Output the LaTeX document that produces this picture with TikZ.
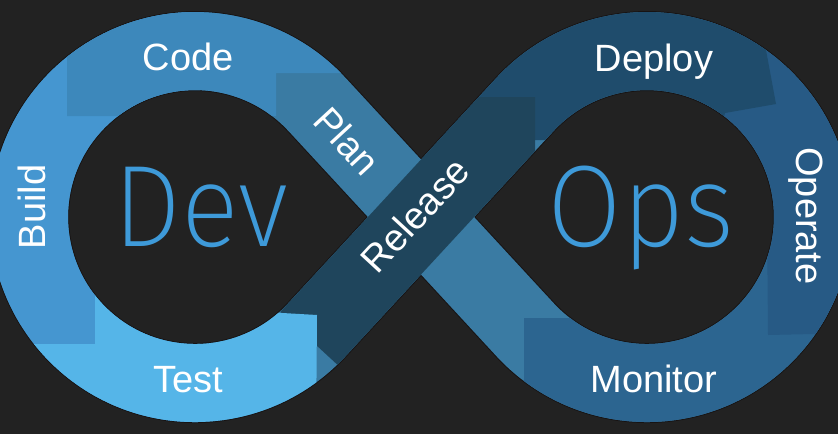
\documentclass[tikz,border=0pt]{standalone}
\usepackage{fontspec}
\setmainfont{Liberation Sans}
\newfontfamily\thinfont{Fira Sans ExtraLight}
\definecolor{bgcol}{HTML}{222222}
\definecolor{edgecol}{HTML}{171313}
\definecolor{buildcol}{HTML}{4596D0}
\definecolor{codecol}{HTML}{3D88BB}
\definecolor{plancol}{HTML}{3A7BA3}
\definecolor{testcol}{HTML}{55B5E8}
\definecolor{releasecol}{HTML}{1F455C}
\definecolor{deploycol}{HTML}{1F4C6C}
\definecolor{operatecol}{HTML}{275A85}
\definecolor{monitorcol}{HTML}{2C6590}
\definecolor{bigcol}{HTML}{3E9AD9}

\begin{document}
\begin{tikzpicture}[
    x=1pt, y=-1pt,
    band/.style={line width=78pt, line join=round},
    eightpath/.style={insert path={(317,104.4) -- (525,329.6)
        arc[start angle=137.3, end angle=-137.3, radius=166] -- (317,329.6)
        arc[start angle=42.7, end angle=317.3, radius=166] -- cycle}},
    lbl/.style={text=white, font=\fontsize{38}{38}\selectfont, inner sep=0pt},
    big/.style={text=bigcol, font=\thinfont\fontsize{116}{116}\selectfont, inner sep=0pt, xscale=0.93}
]

% --- background ---
\fill[bgcol] (0,0) rectangle (838,434);
\useasboundingbox (0,0) rectangle (838,434);

% --- the loop, one colour block after the other ---
\draw[edgecol, line width=80pt, line join=round, eightpath];
\draw[band, plancol, eightpath];
\begin{scope}
  \clip (-20,-20) rectangle (200,440);
  \draw[band, buildcol, eightpath];
\end{scope}
\begin{scope}
  \clip (67,-20) -- (360,-20) -- (360,73) -- (276,73) -- (276,116) -- (67,116) -- cycle;
  \draw[band, codecol, eightpath];
\end{scope}
\begin{scope}
  \clip (524,440) -- (524,318) -- (640,318) -- (700,250) -- (860,250) -- (860,440) -- cycle;
  \draw[band, monitorcol, eightpath];
\end{scope}
\begin{scope}
  \clip (700,-20) -- (860,-20) -- (860,333) -- (768,335) -- (767,217) -- (700,217) -- cycle;
  \draw[band, operatecol, eightpath];
\end{scope}
\begin{scope}
  \clip (440,-20) -- (753,-20) -- (776,104) -- (725,113) -- (700,217) -- (560,217) -- (560,140) -- (440,140) -- cycle;
  \draw[band, deploycol, eightpath];
\end{scope}
\begin{scope}
  \clip (200,97) rectangle (535,440);
  \coordinate (relA) at (308.9,338.4);
  \coordinate (relB) at (538.6,89.7);
  \draw[band, releasecol] (relA) -- (relB);
\end{scope}
\begin{scope}
  \clip (-20,440) -- (-20,344) -- (95,344) -- (95,280) -- (265,280) -- (265,312) -- (317,315) -- (316,440) -- cycle;
  \draw[band, testcol, eightpath];
\end{scope}

% --- labels ---
\node[lbl, anchor=base] (code) at (188,70) {Code};
\node[lbl, anchor=base, rotate=90] (build) at (45,207) {Build};
\node[lbl, anchor=base] (test) at (188,392) {Test};
\node[lbl, rotate=-47.3] (plan) at (347,141) {Plan};
\node[lbl, rotate=47.3] (release) at (415,215) {Release};
\node[lbl, anchor=base] (deploy) at (654,71) {Deploy};
\node[lbl, anchor=base, rotate=-90] (operate) at (796,216) {Operate};
\node[lbl, anchor=base] (monitor) at (654,392) {Monitor};

\node[big, anchor=base] (dev) at (201,246) {Dev};
\node[big, anchor=base] (ops) at (641,246) {Ops};

\end{tikzpicture}
\end{document}
